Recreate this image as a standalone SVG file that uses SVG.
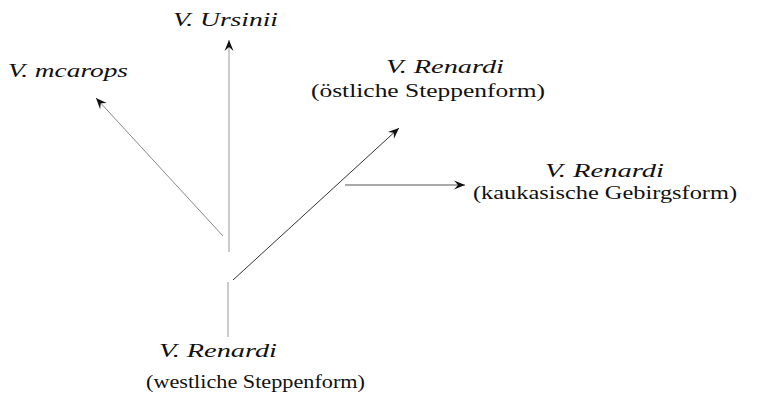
<svg xmlns="http://www.w3.org/2000/svg" width="759" height="402" viewBox="0 0 759 402">
<style>
text{font-size:19px;fill:#111}
.it{font-style:italic}
.ln{fill:none;stroke-width:1}
</style>
<defs>
<marker id="ah" markerUnits="userSpaceOnUse" markerWidth="14" markerHeight="12" viewBox="-12 -6 14 12" refX="0" refY="0" orient="auto" overflow="visible">
<path d="M0,0 L-11,-4.5 L-7,0 L-11,4.5 Z" fill="#111"/>
</marker>
</defs>
<rect width="759" height="402" fill="#fff"/>
<g id="connectors">
<line class="ln" x1="229" y1="252" x2="229" y2="40" stroke="#999" marker-end="url(#ah)"/>
<line class="ln" x1="223" y1="236" x2="96" y2="98" stroke="#888" marker-end="url(#ah)"/>
<line class="ln" x1="233" y1="280" x2="399" y2="128" stroke="#333" marker-end="url(#ah)"/>
<line class="ln" x1="345" y1="185" x2="465" y2="185" stroke="#555" marker-end="url(#ah)"/>
<line class="ln" x1="228" y1="282" x2="228" y2="337" stroke="#999"/>
</g>
<g font-family="'Liberation Serif', 'DejaVu Serif', serif">
<g id="ursinii"><text class="it" x="173" y="26" textLength="105" lengthAdjust="spacingAndGlyphs">V. Ursinii</text></g>
<g id="mcarops"><text class="it" x="8" y="77" textLength="120" lengthAdjust="spacingAndGlyphs">V. mcarops</text></g>
<g id="renardi-oestlich">
<text class="it" x="386" y="73" textLength="118" lengthAdjust="spacingAndGlyphs">V. Renardi</text>
<text x="311" y="97" textLength="234" lengthAdjust="spacingAndGlyphs">(östliche Steppenform)</text>
</g>
<g id="renardi-kaukasisch">
<text class="it" x="545" y="177" textLength="119" lengthAdjust="spacingAndGlyphs">V. Renardi</text>
<text x="473" y="199" textLength="264" lengthAdjust="spacingAndGlyphs">(kaukasische Gebirgsform)</text>
</g>
<g id="renardi-westlich">
<text class="it" x="159" y="357" textLength="118" lengthAdjust="spacingAndGlyphs">V. Renardi</text>
<text x="146" y="388" textLength="219" lengthAdjust="spacingAndGlyphs">(westliche Steppenform)</text>
</g>
</g>
</svg>
